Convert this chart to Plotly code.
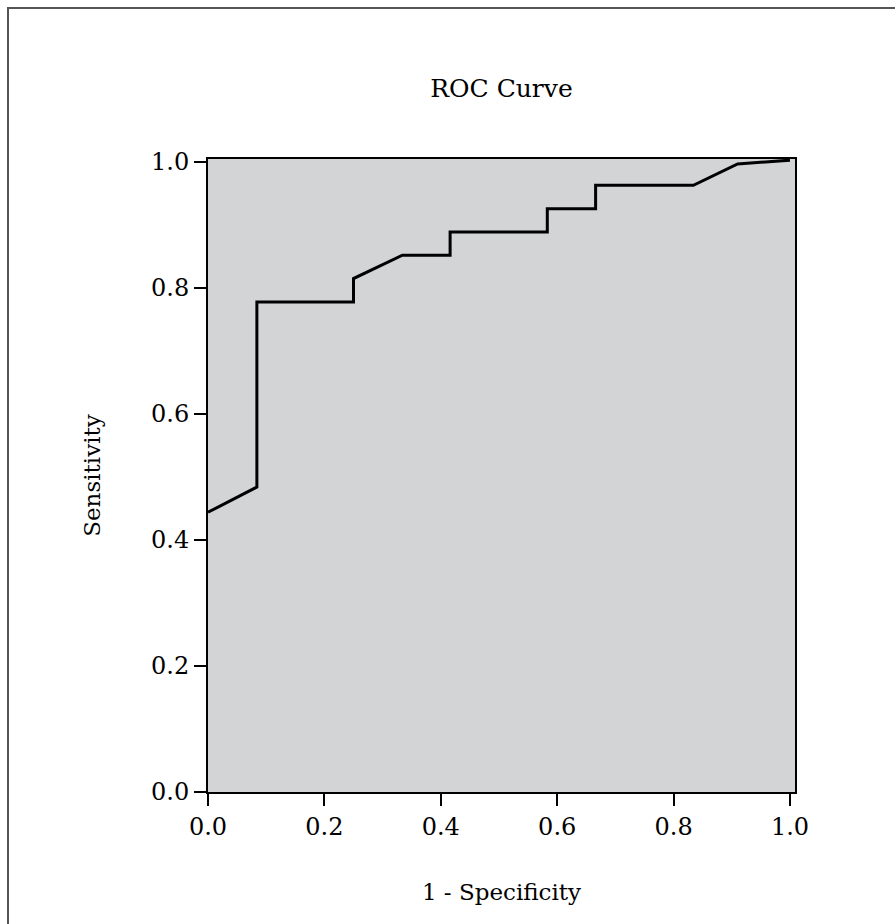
import plotly.graph_objects as go

# ROC curve points
fpr = [0.0, 0.084, 0.084, 0.25, 0.25, 0.334, 0.416, 0.416, 0.583, 0.583, 0.666, 0.666, 0.834, 0.91, 1.0]
tpr = [0.444, 0.484, 0.778, 0.778, 0.815, 0.852, 0.852, 0.889, 0.889, 0.926, 0.926, 0.963, 0.963, 0.997, 1.003]

tick_vals = [0.0, 0.2, 0.4, 0.6, 0.8, 1.0]
tick_text = ["0.0", "0.2", "0.4", "0.6", "0.8", "1.0"]

FONT = "DejaVu Serif"
W, H = 895, 924
L, R, T, B = 208, 100, 159, 132
PW, PH = W - L - R, H - T - B

fig = go.Figure()
fig.add_trace(go.Scatter(x=fpr, y=tpr, mode="lines",
                         line=dict(color="black", width=3),
                         showlegend=False, hoverinfo="skip"))

fig.update_layout(
    width=W, height=H,
    margin=dict(l=L, r=R, t=T, b=B),
    paper_bgcolor="white",
    plot_bgcolor="#d3d4d6",
    font=dict(family=FONT, size=24, color="black"),
    title=dict(text="ROC Curve", x=(L + W - R) / 2 / W, xanchor="center",
               y=1 - 88 / H, yanchor="middle",
               font=dict(family=FONT, size=25, color="black")),
    showlegend=False,
)
fig.update_xaxes(range=[0, 1.0086], tickvals=tick_vals, ticktext=tick_text,
                 ticks="outside", ticklen=12, tickwidth=2, tickcolor="black",
                 showgrid=False, zeroline=False,
                 showline=True, linecolor="black", linewidth=2, mirror=True,
                 tickfont=dict(family=FONT, size=24),
                 title=dict(text="1 - Specificity", standoff=44,
                            font=dict(family=FONT, size=23)))
fig.update_yaxes(range=[0, 1.0048], tickvals=tick_vals, ticktext=tick_text,
                 ticks="outside", ticklen=12, tickwidth=2, tickcolor="black",
                 showgrid=False, zeroline=False,
                 showline=True, linecolor="black", linewidth=2, mirror=True,
                 tickfont=dict(family=FONT, size=24),
                 title=dict(text="Sensitivity", standoff=44,
                            font=dict(family=FONT, size=23)))

# outer frame of the figure (left and top edges visible at 8px)
fig.add_shape(type="rect", xref="paper", yref="paper",
              x0=(8 - L) / PW, x1=(W + 20 - L) / PW,
              y0=-(B + 20) / PH, y1=(H - 8 - B) / PH,
              line=dict(color="#555555", width=2), fillcolor="rgba(0,0,0,0)",
              layer="below")

fig.write_html("out.html", config={"displayModeBar": False},
               post_script="document.body.style.margin='0';document.body.style.overflow='hidden';")
